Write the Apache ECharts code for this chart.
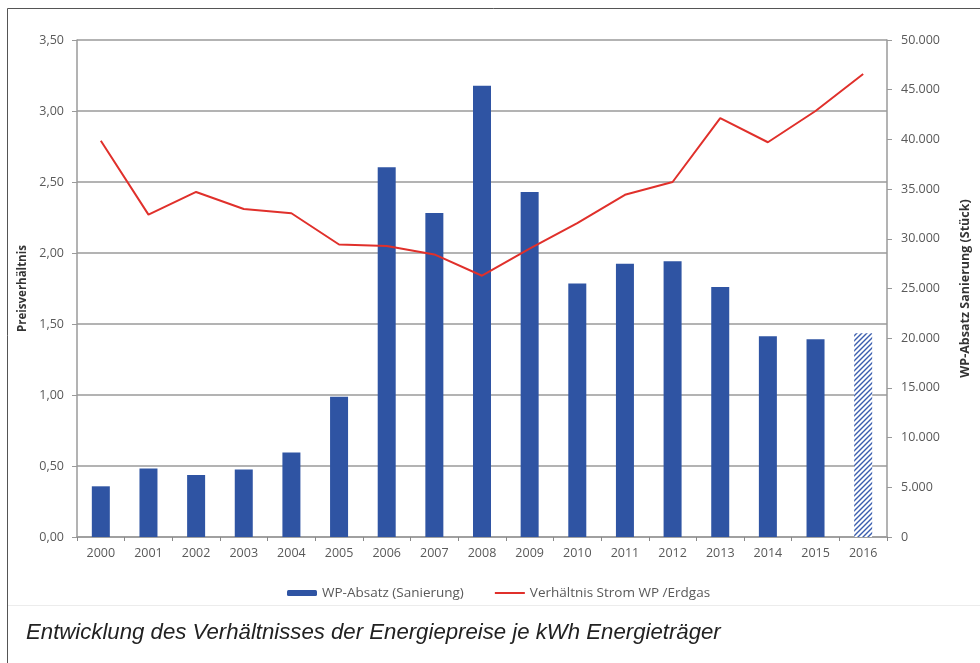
<!DOCTYPE html>
<html>
<head>
<meta charset="utf-8">
<script src="https://cdn.jsdelivr.net/npm/echarts@6/dist/echarts.min.js"></script>
<style>
  html, body { margin: 0; padding: 0; background: #fff; }
  #chart { width: 980px; height: 663px; }
</style>
</head>
<body>
<div id="chart"></div>
<script>
// years on the x axis
const years = ['2000', '2001', '2002', '2003', '2004', '2005', '2006', '2007', '2008',
               '2009', '2010', '2011', '2012', '2013', '2014', '2015', '2016'];
// WP-Absatz (Sanierung), pieces - right axis
const sales = [5100, 6900, 6250, 6800, 8500, 14100, 37200, 32600, 45400,
               34700, 25500, 27500, 27750, 25150, 20200, 19900, 20500];
// Verhältnis Strom WP / Erdgas - left axis
const ratio = [2.79, 2.27, 2.43, 2.31, 2.28, 2.06, 2.05, 1.99, 1.84,
               2.03, 2.21, 2.41, 2.50, 2.95, 2.78, 3.00, 3.26];
// last year is an estimate, drawn hatched
const estimateYear = '2016';

const blue = '#2F54A3';
const red = '#E0302B';
const labelColor = '#595959';
const gridColor = '#9a9a9a';

// hatch pattern for the estimated bar
const hatch = document.createElement('canvas');
hatch.width = 5;
hatch.height = 5;
const hctx = hatch.getContext('2d');
hctx.fillStyle = '#fff';
hctx.fillRect(0, 0, 5, 5);
hctx.strokeStyle = '#3A5DAE';
hctx.lineWidth = 1.4;
hctx.beginPath();
hctx.moveTo(0, 5); hctx.lineTo(5, 0);
hctx.moveTo(-1, 1); hctx.lineTo(1, -1);
hctx.moveTo(4, 6); hctx.lineTo(6, 4);
hctx.stroke();

const salesData = sales.map((v, i) => years[i] === estimateYear
  ? {value: v, itemStyle: {color: {image: hatch, repeat: 'repeat'}}}
  : v);

const thousands = v => String(v).replace(/\B(?=(\d{3})+(?!\d))/g, '.');

const chart = echarts.init(document.getElementById('chart'));
chart.setOption({
  animation: false,
  textStyle: {fontFamily: 'Open Sans'},
  grid: {left: 77, right: 92, top: 40, bottom: 126},
  legend: {
    left: 282,
    top: 581,
    itemWidth: 30,
    itemHeight: 6,
    itemGap: 30,
    textStyle: {color: labelColor, fontSize: 13.5, fontFamily: 'Open Sans'},
    data: [
      {name: 'WP-Absatz (Sanierung)'},
      {name: 'Verhältnis Strom WP /Erdgas', itemStyle: {opacity: 0}}
    ]
  },
  xAxis: {
    type: 'category',
    data: years,
    axisLine: {lineStyle: {color: '#a0a0a0', width: 2}},
    axisTick: {show: true, length: 4, lineStyle: {color: '#888'}},
    axisLabel: {color: labelColor, fontSize: 12.5, margin: 10}
  },
  yAxis: [{
    type: 'value',
    min: 0,
    max: 3.5,
    interval: 0.5,
    name: 'Preisverhältnis',
    nameLocation: 'middle',
    nameRotate: 90,
    nameGap: 47,
    nameTextStyle: {color: '#333', fontWeight: 'bold', fontSize: 11.5},
    axisLine: {show: true, lineStyle: {color: gridColor, width: 1.5}},
    axisTick: {show: true, length: 5, lineStyle: {color: gridColor}},
    axisLabel: {color: labelColor, fontSize: 12.5, margin: 13,
                formatter: v => v.toFixed(2).replace('.', ',')},
    splitLine: {lineStyle: {color: gridColor, width: 1.5}}
  }, {
    type: 'value',
    min: 0,
    max: 50000,
    interval: 5000,
    name: 'WP-Absatz Sanierung (Stück)',
    nameLocation: 'middle',
    nameRotate: 90,
    nameGap: 72,
    nameTextStyle: {color: '#333', fontWeight: 'bold', fontSize: 12.5},
    axisLine: {show: true, lineStyle: {color: gridColor, width: 1.5}},
    axisTick: {show: true, length: 5, lineStyle: {color: gridColor}},
    axisLabel: {color: labelColor, fontSize: 12.5, margin: 14, formatter: thousands},
    splitLine: {show: false}
  }],
  series: [{
    name: 'WP-Absatz (Sanierung)',
    type: 'bar',
    yAxisIndex: 1,
    barWidth: 18,
    itemStyle: {color: blue},
    data: salesData
  }, {
    name: 'Verhältnis Strom WP /Erdgas',
    type: 'line',
    yAxisIndex: 0,
    symbol: 'none',
    z: 5,
    lineStyle: {color: red, width: 2},
    itemStyle: {color: red},
    data: ratio
  }],
  graphic: [
    {type: 'line', shape: {x1: 7.5, y1: 663, x2: 7.5, y2: 8.5}, style: {stroke: '#555', lineWidth: 1}},
    {type: 'line', shape: {x1: 7.5, y1: 8.5, x2: 980, y2: 8.5}, style: {stroke: '#555', lineWidth: 1}},
    {type: 'line', shape: {x1: 8, y1: 605.5, x2: 980, y2: 605.5}, style: {stroke: '#ececec', lineWidth: 1}},
    {type: 'text', left: 26, top: 622,
     style: {text: 'Entwicklung des Verhältnisses der Energiepreise je kWh Energieträger',
             font: 'italic 22.2px "Liberation Sans"', fill: '#222'}}
  ]
});
</script>
</body>
</html>
